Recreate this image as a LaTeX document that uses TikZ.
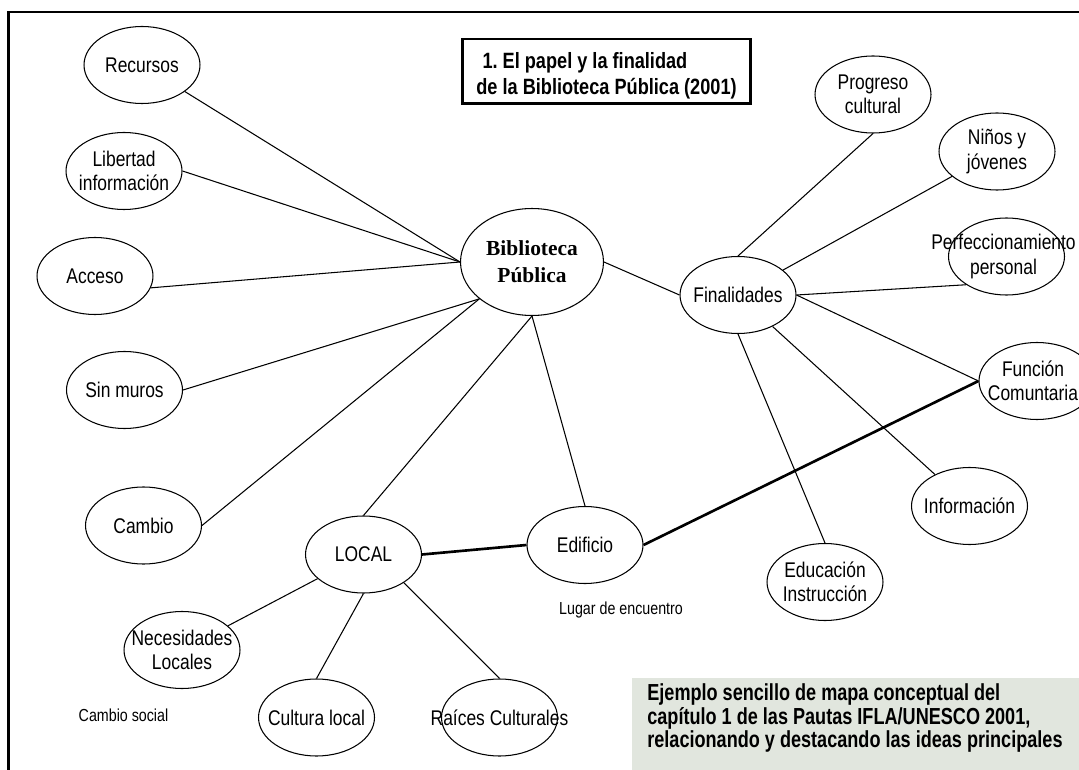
\documentclass[tikz,border=0pt]{standalone}
\usepackage{fontspec}
\setmainfont{Liberation Sans}[FakeStretch=0.82]
\newfontfamily\serifbold{Liberation Serif}
\newfontfamily\narrowsans[FakeStretch=0.78]{Liberation Sans}
\usetikzlibrary{shapes.geometric}

\newcommand\ellfont{\fontsize{12.1pt}{13.9pt}\selectfont}
\newcommand\smallfont{\fontsize{9.9pt}{11pt}\selectfont}
\newcommand\titlefont{\fontsize{12.6pt}{14.7pt}\selectfont\bfseries}
\newcommand\notefont{\fontsize{13.2pt}{13.6pt}\selectfont\narrowsans\bfseries}
\definecolor{notegray}{RGB}{225,230,222}

\tikzset{
  concept/.style={ellipse, draw, line width=0.6pt, inner sep=0pt,
    minimum width=2.32cm, minimum height=1.54cm},
  link/.style={line width=0.6pt},
  thicklink/.style={line width=1.5pt},
  every label/.style={align=center, font=\ellfont, inner sep=0pt},
}

\begin{document}
\begin{tikzpicture}[x=0.02cm, y=-0.02cm]
\clip (0,0) rectangle (1079,770);
% frame
\draw[line width=1.5pt] (8.5,780) -- (8.5,12) -- (1090,12);
% title
\node[draw, line width=1.7pt, minimum width=5.76cm, minimum height=1.3cm, inner sep=0pt,
  label={[font=\titlefont, align=left, yshift=-0.09cm]center:\hspace{3.5pt}1.\ El papel y la finalidad\\de la Biblioteca Pública (2001)}]
  (title) at (606.5,71.5) {};

% centre
\node[concept, minimum width=2.86cm, minimum height=2.14cm,
  label={[font=\fontsize{12.2pt}{15.3pt}\selectfont\serifbold\bfseries]center:Biblioteca\\Pública}] (bib) at (532,262) {};

% left side
\node[concept, label={center:Recursos}] (rec) at (142,65) {};
\node[concept, label={center:Libertad\\información}] (lib) at (124,171) {};
\node[concept, label={center:Acceso}] (acc) at (95,276) {};
\node[concept, label={center:Sin muros}] (sin) at (124.5,390) {};
\node[concept, label={center:Cambio}] (cam) at (143.5,525.5) {};

% local
\node[concept, label={center:LOCAL}] (loc) at (363.5,554.5) {};
\node[concept, label={center:Necesidades\\Locales}] (nec) at (182,650) {};
\node[concept, label={center:Cultura local}] (cult) at (316.5,717.5) {};
\node[concept, label={center:Raíces Culturales}] (raic) at (499.5,717.5) {};
\node[concept, label={center:Edificio}] (edif) at (585,545) {};

% finalidades
\node[concept, label={center:Finalidades}] (fin) at (738,295) {};
\node[concept, label={center:Progreso\\cultural}] (prog) at (873,94.5) {};
\node[concept, label={center:Niños y\\jóvenes}] (ninos) at (997,151.5) {};
\node[concept, label={[xshift=-0.06cm]center:Perfeccionamiento\\personal}] (perf) at (1006.5,256.5) {};
\node[concept, label={[xshift=-0.08cm]center:Función\\Comuntaria}] (func) at (1037,381) {};
\node[concept, label={center:Información}] (info) at (969.5,506) {};
\node[concept, label={center:Educación\\Instrucción}] (edu) at (825,582) {};

% loose texts
\node[font=\smallfont] (social) at (123.5,715) {Cambio social};
\node[font=\smallfont] (lugar) at (621,610) {Lugar de encuentro};

% links
\draw[link] (bib.west) -- (rec);
\draw[link] (bib.west) -- (lib.east);
\draw[link] (bib.west) -- (acc.-12);
\draw[link] (bib.215) -- (sin.east);
\draw[link] (bib.215) -- (cam.east);
\draw[link] (bib.south) -- (loc.north);
\draw[link] (bib.south) -- (edif.north);
\draw[link] (bib.east) -- (fin.west);
\draw[link] (fin.north) -- (prog.south);
\draw[link] (fin) -- (ninos);
\draw[link] (fin.east) -- (perf.215);
\draw[link] (fin.east) -- (func.west);
\draw[link] (fin) -- (info);
\draw[link] (fin.south) -- (edu.north);
\draw[link] (loc) -- (nec);
\draw[link] (loc.south) -- (cult.north);
\draw[link] (loc.-35) -- (raic.north);
\draw[thicklink] (loc.east) -- (edif.west);
\draw[thicklink] (edif.east) -- (func.west);

% note
\fill[notegray] (632,678) rectangle (1090,780);
\node[anchor=north west, align=left, font=\notefont, inner sep=0pt] (note) at (647,683)
  {Ejemplo sencillo de mapa conceptual del\\capítulo 1 de las Pautas IFLA/UNESCO 2001,\\relacionando y destacando las ideas principales};
\end{tikzpicture}
\end{document}
